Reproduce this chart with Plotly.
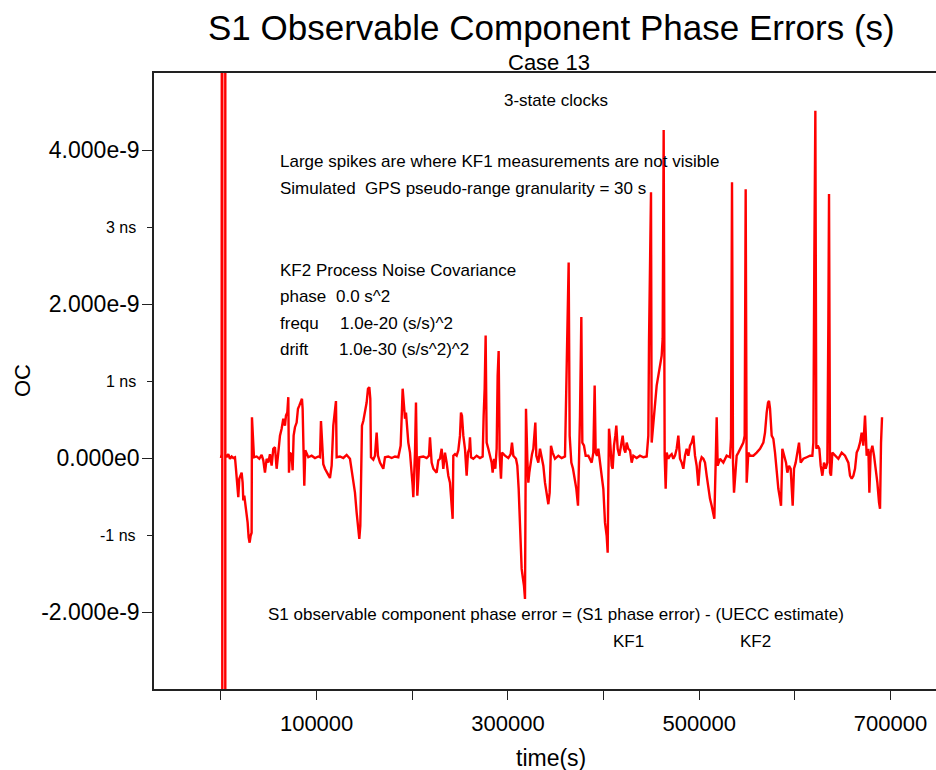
import plotly.graph_objects as go

# ---- data (time in s, OC in ns) ----
t_seg1 = [0, 700, 1394, 1400, 4530, 4540, 4550, 5925, 7667, 9410,
          11152, 12895, 14637, 15683, 17077, 18122, 19168, 20562, 21607, 22653,
          23350, 24395, 25441, 26835, 27880, 28926, 29971, 31017, 32062, 32410,
          33456, 34502, 37290, 40078, 42517, 44260, 46002, 47745, 49487, 51230,
          52972, 54715, 56457, 58200, 59942, 61685, 63427, 65170, 66912, 67958,
          69352, 70397, 71094, 72140, 73882, 74927, 75973, 77367, 79110, 80504,
          81898, 83292, 84685, 85382, 86080, 87125, 88171, 91307, 94792, 98277,
          101762, 103505, 104550, 105596, 106990, 108732, 110475, 112217, 113960, 115702,
          117445, 119187, 120233, 120930, 124415, 127900, 131384, 134870, 136612, 138355,
          140097, 141840, 143582, 144627, 145673, 146370, 147416, 148810, 150552, 152295,
          153689, 155082, 156128, 156825, 159264, 161007, 162750, 164144, 166235, 167977,
          169720, 171462, 174947, 178432, 181917, 185402, 187842, 188887, 189933, 191327,
          192372, 193418, 194463, 195857, 197600, 199342, 200388, 201085, 202130, 202827,
          203873, 204570, 205267, 206312, 207357, 211540, 215025, 217464, 218510, 220252,
          221995, 225480, 227222, 228965, 230707, 232450, 234192, 235935, 237677]
oc_seg1 = [0, 0.05, 20, -20, -20, 20, 0.05, 0.01, 0.05, -0.01,
           0.02, 0.0, 0.01, -0.14, -0.36, -0.51, -0.27, -0.21, -0.19, -0.32,
           -0.55, -0.49, -0.60, -0.71, -0.84, -1.03, -1.10, -1.01, -0.97, 0.53,
           0.12, 0.01, 0.02, -0.01, 0.04, -0.03, -0.19, -0.01, -0.06, 0.05,
           -0.10, 0.12, 0.14, -0.14, 0.07, 0.29, 0.38, 0.51, 0.42, 0.55,
           0.59, 0.79, -0.19, 0.07, 0.04, -0.16, 0.29, 0.40, 0.46, 0.64,
           0.68, 0.74, 0.77, 0.64, 0.07, -0.36, 0.10, 0.01, 0.03, 0.0,
           0.02, 0.01, 0.48, 0.16, -0.08, -0.14, -0.19, -0.22, -0.26, -0.10,
           0.42, 0.59, 0.74, 0.01, 0.02, 0.0, 0.04, -0.01, -0.14, -0.32,
           -0.45, -0.71, -0.88, -1.05, -0.88, -0.01, 0.42, 0.48, 0.59, 0.72,
           0.90, 0.92, 0.77, 0.01, -0.02, 0.03, 0.33, 0.03, -0.06, -0.11,
           -0.14, 0.01, 0.02, 0.0, 0.02, 0.01, 0.16, 0.51, 0.90, 0.68,
           0.51, 0.59, 0.38, 0.20, 0.07, -0.14, -0.36, -0.51, -0.27, 0.07,
           0.72, -0.19, -0.49, -0.27, 0.01, 0.02, 0.0, 0.03, 0.27, -0.06,
           -0.14, -0.19, -0.03, -0.01, 0.12, -0.14, 0.07, -0.06, -0.23]

t_seg2 = [239420, 241162, 242208, 242905, 244647, 246390, 248132, 249875, 250920, 251966,
          253360, 255102, 256845, 258239, 259633, 260330, 261375, 263815, 267300, 270784,
          273572, 274618, 275663, 276709, 277754, 279497, 281240, 282982, 284027, 285421,
          286815, 288210, 289255, 290300, 291346, 292740, 293786, 296922, 300407, 302847,
          304241, 305635, 308423, 309817, 311211, 312256, 313302, 314347, 315741, 316787,
          317832, 318529, 318878, 320272, 321317, 322363, 323757, 325151, 326545, 327590,
          328636, 329681, 331772, 333515, 335257, 337000, 338742, 340485, 342227, 343621,
          345015, 346758, 349197, 352682, 356167, 359652, 360698, 362092, 363486, 364531,
          366274, 368016, 369759, 371501, 373244, 374289, 375335, 376729, 377774, 379517,
          381259, 384047, 387532, 389275, 390669, 391714, 393108, 394502, 396245, 397987,
          399730, 401472, 403215, 404260, 404957, 405654, 406700, 408442, 409488, 410882,
          412276, 413321, 414715, 416458, 418200, 419943, 421337, 422731, 424125, 425867,
          427610, 429352, 431095, 434580, 438065, 441550, 445035, 446777]
oc_seg2 = [-0.32, -0.66, -0.79, 0.03, 0.05, 0.03, 0.10, 0.29, 0.59, 0.55,
           0.29, 0.12, -0.23, 0.07, 0.12, 0.27, 0.01, -0.01, 0.03, 0.0,
           0.02, 0.55, 0.90, 1.59, 0.20, 0.12, 0.03, -0.06, -0.19, -0.01,
           -0.14, 0.12, 1.07, 1.39, 0.03, -0.27, 0.07, 0.03, 0.0, 0.05,
           0.20, 0.03, -0.01, -0.10, -0.40, -0.75, -1.05, -1.44, -1.57, -1.66,
           -1.83, -0.75, 0.64, -0.01, -0.32, -0.19, -0.06, 0.05, 0.12, 0.29,
           0.46, 0.03, -0.06, 0.12, 0.03, -0.10, -0.32, -0.49, -0.60, -0.45,
           0.16, 0.07, -0.01, 0.03, 0.0, 0.02, 0.55, 1.63, 2.54, 0.29,
           -0.06, -0.14, -0.27, -0.40, -0.62, -0.10, 0.55, 1.83, 0.20, 0.16,
           0.03, 0.03, -0.06, 0.07, 0.94, 0.07, 0.03, 0.12, -0.10, -0.23,
           -0.40, -0.84, -1.01, -1.23, -0.32, 0.38, 0.25, -0.10, -0.14, 0.16,
           0.29, 0.42, 0.12, 0.03, 0.16, 0.29, 0.12, 0.07, 0.20, 0.12,
           0.10, -0.06, 0.03, 0.0, 0.03, 0.01, 0.02, 0.29]

t_seg3 = [447474, 448520, 449565, 450262, 452005, 453747, 455490, 457232, 458975, 460717,
          461763, 462808, 463854, 464899, 465945, 467687, 469430, 471172, 472915, 474657,
          476400, 478142, 479885, 481627, 483370, 485112, 486855, 488597, 490340, 492082,
          493825, 495567, 497310, 499052, 500795, 502537, 504280, 506022, 507765, 509507,
          511250, 512992, 514735, 515780, 517174, 518220, 519265, 521705, 525190, 528675,
          532160, 533205, 534251, 535296, 536342, 537736, 539130, 540872, 542615, 544357,
          546100, 547494, 548539, 549585, 551327, 553070, 556555, 560040, 563525, 567010,
          568752, 570495, 571889, 572934, 573980, 575722, 577465, 579207, 580950, 582692,
          584435, 585480, 586874, 588617, 590708, 592102, 593845, 595587, 596981, 597678,
          599072, 600815, 602557, 604300, 606042, 608830, 612315, 615800, 618240, 619285,
          620330, 621376, 622421, 623815, 625558, 626952, 628694, 630437, 632179, 633922,
          634967, 635664, 636710, 637755, 639149, 641937, 645422, 648907, 652392, 655877,
          657620, 659362, 661105, 662847, 664590, 666332, 668075, 669817, 671560, 673302,
          675045, 676787, 677833, 679227, 680969, 682712, 684454, 686197, 687939, 688985,
          690030, 691076]
oc_seg3 = [1.50, 2.84, 3.45, 0.20, 0.46, 0.77, 0.94, 1.07, 1.20, 1.33,
           1.55, 4.26, 0.03, -0.40, 0.07, -0.01, 0.03, 0.05, -0.01, 0.03,
           0.12, 0.29, -0.01, -0.06, -0.14, 0.03, 0.12, 0.03, 0.16, 0.20,
           0.29, 0.03, -0.10, -0.36, -0.06, 0.01, -0.01, -0.06, -0.23, -0.40,
           -0.53, -0.62, -0.75, -0.79, -0.06, 0.53, -0.10, -0.01, -0.06, 0.03,
           0.01, 0.25, 3.58, -0.06, -0.45, -0.14, 0.03, 0.07, 0.12, 0.16,
           0.20, 0.29, 3.49, -0.32, 0.07, 0.03, 0.03, 0.07, 0.12, 0.20,
           0.33, 0.59, 0.72, 0.74, 0.64, 0.29, 0.25, 0.07, -0.23, -0.40,
           -0.53, -0.62, 0.12, 0.03, -0.06, -0.19, -0.10, -0.14, -0.53, -0.62,
           -0.14, -0.06, 0.07, 0.20, -0.06, -0.01, 0.01, 0.03, 0.03, 0.20,
           2.63, 4.51, 0.12, 0.16, 0.12, -0.10, -0.23, -0.06, -0.14, -0.06,
           1.76, 3.43, -0.19, -0.23, 0.07, 0.03, -0.01, 0.07, 0.03, -0.06,
           -0.23, -0.27, -0.23, -0.14, 0.07, 0.12, 0.20, 0.33, 0.16, 0.55,
           0.03, 0.12, -0.45, 0.07, 0.16, 0.03, -0.14, -0.32, -0.58, -0.66,
           0.20, 0.53]

x_tick_vals = [100000, 300000, 500000, 700000]
x_tick_text = ["100000", "300000", "500000", "700000"]
x_minor_vals = [0, 200000, 400000, 600000]
y_tick_vals = [4e-9, 2e-9, 0, -2e-9]
y_tick_text = ["4.000e-9", "2.000e-9", "0.000e0", "-2.000e-9"]
y_minor_vals = [3e-9, 1e-9, -1e-9]
y_minor_text = ["3 ns", "1 ns", "-1 ns"]

assert len(t_seg1) == len(oc_seg1)
assert len(t_seg2) == len(oc_seg2)
assert len(t_seg3) == len(oc_seg3)

t_all = t_seg1 + t_seg2 + t_seg3
oc_all = [v * 1e-9 for v in (oc_seg1 + oc_seg2 + oc_seg3)]

FONT = "Liberation Sans, Arial, sans-serif"

fig = go.Figure()
fig.add_trace(go.Scatter(x=t_all, y=oc_all, mode="lines",
                         line=dict(color="#ff0000", width=2.4),
                         showlegend=False, hoverinfo="skip"))

axis_col = "#222222"
fig.update_layout(
    width=936, height=770,
    margin=dict(l=154, r=0, t=73, b=81),
    paper_bgcolor="white", plot_bgcolor="white",
    font=dict(family=FONT, color="black"),
    showlegend=False,
    xaxis=dict(range=[-70000, 747500], showgrid=False, zeroline=False,
               showline=True, linecolor=axis_col, linewidth=1.5, mirror=True,
               ticks="outside", ticklen=9, tickwidth=1, tickcolor=axis_col,
               tickvals=x_tick_vals, ticktext=x_tick_text,
               tickfont=dict(size=22, family=FONT, color="black"),
               ticklabelstandoff=5,
               minor=dict(tickvals=x_minor_vals, ticks="outside", ticklen=9,
                          tickwidth=1, tickcolor=axis_col)),
    yaxis=dict(range=[-3e-9, 5e-9], showgrid=False, zeroline=False,
               showline=True, linecolor=axis_col, linewidth=1.5, mirror=False,
               ticks="outside", ticklen=10, tickwidth=1, tickcolor=axis_col,
               tickvals=y_tick_vals, ticktext=y_tick_text,
               tickfont=dict(size=23, family=FONT, color="black"),
               ticklabelstandoff=-2,
               minor=dict(tickvals=y_minor_vals, ticks="outside", ticklen=5,
                          tickwidth=1, tickcolor=axis_col)),
)

ann = []
# minor y labels
for v, s in zip(y_minor_vals, y_minor_text):
    ann.append(dict(x=0, xref="paper", y=v, yref="y", text=s, showarrow=False,
                    xanchor="right", yanchor="middle", xshift=-16,
                    font=dict(size=16, family=FONT, color="black")))
# titles
ann.append(dict(x=(551 - 154) / 782, xref="paper", y=1, yref="paper", yshift=46,
                text="S1 Observable Component Phase Errors (s)", showarrow=False,
                xanchor="center", yanchor="middle",
                font=dict(size=35, family=FONT, color="black")))
ann.append(dict(x=(549 - 154) / 782, xref="paper", y=1, yref="paper", yshift=11,
                text="Case 13", showarrow=False, xanchor="center", yanchor="middle",
                font=dict(size=22, family=FONT, color="black")))
ann.append(dict(x=(551 - 154) / 782, xref="paper", y=0, yref="paper", yshift=-69,
                text="time(s)", showarrow=False, xanchor="center", yanchor="middle",
                font=dict(size=23, family=FONT, color="black")))
ann.append(dict(x=0, xref="paper", xshift=-132, y=0.5, yref="paper",
                text="OC", showarrow=False, textangle=-90,
                xanchor="center", yanchor="middle",
                font=dict(size=22, family=FONT, color="black")))

# notes inside the plot (pixel-placed text)
notes = [
    (556, 101, "3-state clocks", "center"),
    (278, 161, "Large spikes are where KF1 measurements are not visible", "left"),
    (278, 188, "Simulated\u00a0\u00a0GPS pseudo-range granularity = 30 s", "left"),
    (278, 270, "KF2 Process Noise Covariance", "left"),
    (278, 296, "phase", "left"),
    (334, 296, "0.0 s^2", "left"),
    (278, 323, "frequ", "left"),
    (338, 323, "1.0e-20 (s/s)^2", "left"),
    (278, 349, "drift", "left"),
    (337, 349, "1.0e-30 (s/s^2)^2", "left"),
    (266, 614, "S1 observable component phase error = (S1 phase error) - (UECC estimate)", "left"),
    (611, 641, "KF1", "left"),
    (738, 641, "KF2", "left"),
]
for px, py, s, anc in notes:
    ann.append(dict(x=(px - 154) / 782, xref="paper",
                    y=(689 - py) / 616, yref="paper",
                    text=s, showarrow=False, xanchor=anc, yanchor="middle",
                    font=dict(size=17, family=FONT, color="black")))

fig.update_layout(annotations=ann)
fig.write_html("out.html")
